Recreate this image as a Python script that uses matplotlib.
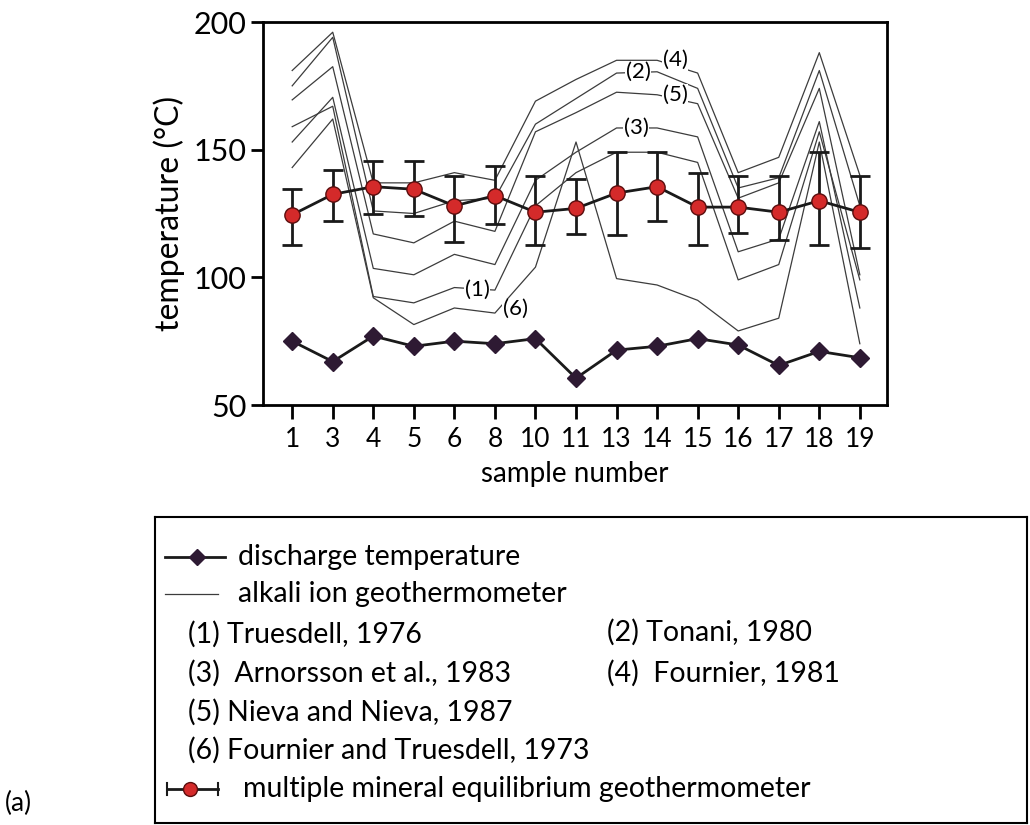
import matplotlib
matplotlib.use('Agg')
import matplotlib.pyplot as plt
import numpy as np

# sample numbers on the x axis
samples = ['1', '3', '4', '5', '6', '8', '10', '11', '13', '14', '15', '16', '17', '18', '19']

# discharge temperature (diamonds)
discharge = [75, 67, 77, 73, 75, 74, 76, 60.5, 71.5, 73, 76, 73.5, 65.5, 71, 68.5]

# multiple mineral equilibrium geothermometer (circles + error bars)
mineral = [124.5, 132.5, 135.5, 134.5, 128, 132, 125.5, 127, 133, 135.5, 127.5, 127.5, 125.5, 130, 125.5]
mineral_hi = [134.5, 142, 145.5, 145.5, 139.5, 143.5, 139.5, 138.5, 149, 149, 141, 139.5, 139.5, 149, 139.5]
mineral_lo = [112.5, 122, 125, 124, 114, 121, 112.5, 117, 116.5, 122, 112.5, 117.5, 114.5, 112.5, 111.5]

# alkali ion geothermometers
truesdell_1976 = [159, 167, 92.5, 90, 96, 95, 128, 141, 149, 149, 145, 99, 105, 157, 99]
tonani_1980 = [175, 194, 126, 125, 130, 131, 160, 170, 180, 180.5, 174, 135, 139, 181, 128]
arnorsson_1983 = [153, 170.5, 103.5, 101, 109, 105, 138, 149, 158.5, 158.5, 155, 110, 115, 161, 88]
fournier_1981 = [181, 196, 137, 137, 141, 138, 169, 177.5, 185, 185, 180, 141, 147, 188, 140]
nieva_1987 = [169.5, 182.5, 117, 113.5, 122, 118, 157, 164.5, 172.5, 171.5, 168, 131, 137, 174, 101]
fournier_truesdell_1973 = [143, 162, 92, 81.5, 88, 86, 104, 153, 99.5, 97, 91, 79, 84, 153, 74]

alkali = [truesdell_1976, tonani_1980, arnorsson_1983, fournier_1981, nieva_1987, fournier_truesdell_1973]
alkali_tags = ['(1)', '(2)', '(3)', '(4)', '(5)', '(6)']
# where each tag sits (sample index, temperature)
tag_pos = [(4.56, 95), (8.53, 180.5), (8.48, 158.5), (9.45, 185), (9.45, 171.5), (5.5, 87.5)]

W, H = 1030, 825
plt.rcParams['font.family'] = ['Lato', 'DejaVu Sans']

fig = plt.figure(figsize=(W / 100, H / 100), dpi=100)
ax = fig.add_axes([263 / W, 1 - 405 / H, (887 - 263) / W, (405 - 22) / H])

x = np.arange(len(samples))

for vals in alkali:
    ax.plot(x, vals, color='#3c3c3c', lw=0.9, zorder=1)

for tag, (tx, ty) in zip(alkali_tags, tag_pos):
    ax.text(tx, ty, tag, fontsize=16, ha='center', va='center', zorder=2,
            bbox=dict(facecolor='white', edgecolor='none', pad=0.5))

err = [np.array(mineral) - np.array(mineral_lo), np.array(mineral_hi) - np.array(mineral)]
ax.errorbar(x, mineral, yerr=err, fmt='none', ecolor='#1a1a1a', elinewidth=2,
            capsize=7, capthick=2, zorder=3)
ax.plot(x, mineral, color='#1a1a1a', lw=2, marker='o', markersize=11,
        markerfacecolor='#d42a2a', markeredgecolor='#5a0d0d', markeredgewidth=1, zorder=4)

ax.plot(x, discharge, color='#1a1a1a', lw=2, marker='D', markersize=9,
        markerfacecolor='#2e1a33', markeredgecolor='#2e1a33', zorder=4)

ax.set_xlim(-0.72, 14.67)
ax.set_ylim(50, 200)
ax.set_xticks(x)
ax.set_xticklabels(samples)
ax.set_yticks([50, 100, 150, 200])
ax.tick_params(axis='x', direction='out', length=10, width=2, labelsize=19, pad=6)
ax.tick_params(axis='y', direction='out', length=9, width=2, labelsize=22, pad=3)
for s in ax.spines.values():
    s.set_linewidth(2)
ax.set_xlabel('sample number', fontsize=20, labelpad=6)
ax.set_ylabel('temperature (°C)', fontsize=23, labelpad=6)

# legend box
lax = fig.add_axes([155 / W, 1 - 823 / H, (1027 - 155) / W, (823 - 517) / H])
lax.set_xlim(155, 1027)
lax.set_ylim(823, 517)
lax.set_xticks([])
lax.set_yticks([])
for s in lax.spines.values():
    s.set_linewidth(1.5)

fs = 20.5
lax.plot([165, 225], [557, 557], color='#1a1a1a', lw=2)
lax.plot([197], [557], marker='D', markersize=8, color='#2e1a33')
lax.text(238, 557, 'discharge temperature', fontsize=fs, va='center')

lax.plot([165, 218], [594, 594], color='#3c3c3c', lw=0.9)
lax.text(238, 594, 'alkali ion geothermometer', fontsize=fs, va='center')

lax.text(188, 634, '(1) Truesdell, 1976', fontsize=fs, va='center')
lax.text(607, 632, '(2) Tonani, 1980', fontsize=fs, va='center')
lax.text(188, 673, '(3)  Arnorsson et al., 1983', fontsize=fs, va='center')
lax.text(607, 673, '(4)  Fournier, 1981', fontsize=fs, va='center')
lax.text(188, 712, '(5) Nieva and Nieva, 1987', fontsize=fs, va='center')
lax.text(188, 750, '(6) Fournier and Truesdell, 1973', fontsize=fs, va='center')

lax.plot([167, 218], [789, 789], color='#1a1a1a', lw=2)
lax.plot([167, 167], [783, 795], color='#1a1a1a', lw=1.5)
lax.plot([218, 218], [783, 795], color='#1a1a1a', lw=1.5)
lax.plot([190], [789], marker='o', markersize=10, markerfacecolor='#d42a2a',
         markeredgecolor='#5a0d0d')
lax.text(243, 789, 'multiple mineral equilibrium geothermometer', fontsize=fs, va='center')

fig.text(5 / W, 1 - 803 / H, '(a)', fontsize=19, va='center')

fig.savefig('out.png', dpi=100)
